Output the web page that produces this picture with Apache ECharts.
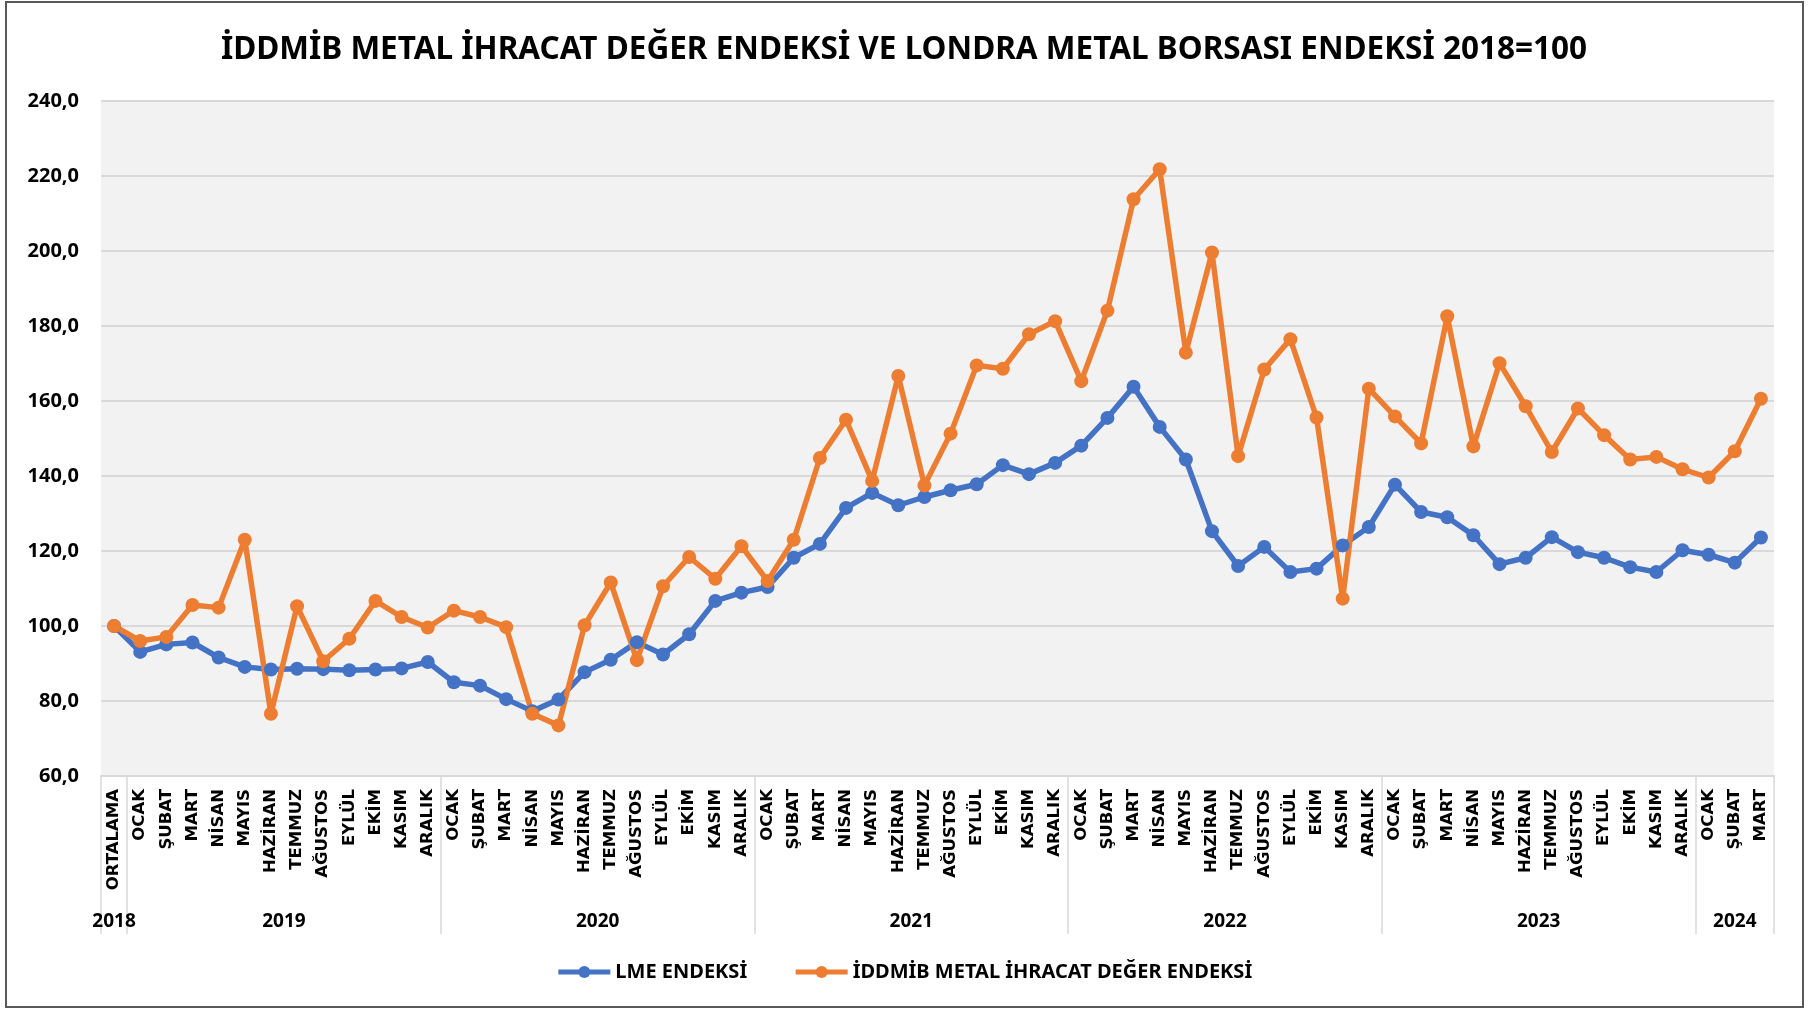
<!DOCTYPE html>
<html>
<head>
<meta charset="utf-8">
<title>İDDMİB Metal İhracat Değer Endeksi</title>
<script src="https://cdn.jsdelivr.net/npm/echarts@6.0.0/dist/echarts.min.js"></script>
<style>
    html, body { margin: 0; padding: 0; background: #fff; }
    #main { width: 1808px; height: 1010px; }
</style>
</head>
<body>
<div id="main"></div>
<script>
// veriler
var aylar = ['OCAK', 'ŞUBAT', 'MART', 'NİSAN', 'MAYIS', 'HAZİRAN', 'TEMMUZ', 'AĞUSTOS', 'EYLÜL', 'EKİM', 'KASIM', 'ARALIK'];
var yillar = ['2018', '2019', '2020', '2021', '2022', '2023', '2024'];
var yilAyLabels = [
    ['ORTALAMA'],
    aylar, aylar, aylar, aylar, aylar,
    ['OCAK', 'ŞUBAT', 'MART']
];
var lme = [100,
    93.1, 95.1, 95.6, 91.6, 89.1, 88.4, 88.6, 88.5, 88.2, 88.4, 88.7, 90.4,
    85.0, 84.1, 80.5, 77.3, 80.4, 87.7, 91.0, 95.7, 92.4, 97.8, 106.7, 108.9,
    110.4, 118.2, 121.9, 131.5, 135.5, 132.2, 134.4, 136.2, 137.8, 142.9, 140.5, 143.5,
    148.1, 155.5, 163.8, 153.1, 144.4, 125.3, 116.0, 121.1, 114.4, 115.3, 121.5, 126.4,
    137.7, 130.4, 129.0, 124.2, 116.5, 118.2, 123.7, 119.7, 118.2, 115.7, 114.4, 120.2,
    119.0, 116.9, 123.6];
var iddmib = [100,
    96.0, 97.1, 105.6, 104.9, 123.0, 76.6, 105.3, 90.6, 96.6, 106.7, 102.4, 99.6,
    104.1, 102.4, 99.7, 76.6, 73.5, 100.2, 111.6, 90.9, 110.6, 118.4, 112.6, 121.3,
    112.0, 123.0, 144.8, 155.0, 138.7, 166.7, 137.5, 151.3, 169.5, 168.6, 177.8, 181.3,
    165.3, 184.1, 213.8, 221.8, 172.9, 199.6, 145.3, 168.4, 176.5, 155.6, 107.3, 163.3,
    155.9, 148.7, 182.6, 147.9, 170.1, 158.6, 146.4, 158.0, 150.9, 144.4, 145.1, 141.8,
    139.6, 146.6, 160.6];

// kategoriler ve yil gruplarinin sinirlari
var kategoriler = [];
var sinirlar = [-0.5];
var merkezler = [];
yilAyLabels.forEach(function (list) {
    var bas = kategoriler.length;
    kategoriler = kategoriler.concat(list);
    merkezler.push(bas + (list.length - 1) / 2);
    sinirlar.push(kategoriler.length - 0.5);
});

var myChart = echarts.init(document.getElementById('main'));

var option = {
    backgroundColor: '#fff',
    animation: false,
    title: {
        text: 'İDDMİB METAL İHRACAT DEĞER ENDEKSİ VE LONDRA METAL BORSASI ENDEKSİ 2018=100',
        left: 'center',
        top: 29,
        textStyle: {
            fontFamily: 'Noto Sans',
            fontWeight: 'bold',
            fontSize: 31.5,
            color: '#000'
        }
    },
    legend: {
        top: 957,
        left: 'center',
        itemWidth: 52,
        itemHeight: 15,
        itemGap: 46,
        lineStyle: { width: 5 },
        textStyle: {
            fontFamily: 'Noto Sans',
            fontWeight: 'bold',
            fontSize: 20,
            color: '#000'
        }
    },
    grid: {
        left: 101,
        right: 34,
        top: 101,
        bottom: 234,
        show: true,
        backgroundColor: '#f2f2f2',
        borderWidth: 0
    },
    xAxis: [
        {
            type: 'category',
            data: kategoriler,
            boundaryGap: true,
            axisLine: { lineStyle: { color: '#d9d9d9', width: 2 } },
            axisTick: { show: false },
            axisLabel: {
                interval: 0,
                rotate: 90,
                margin: 13,
                fontFamily: 'DejaVu Sans',
                fontWeight: 'bold',
                fontSize: 16.5,
                color: '#000'
            }
        },
        {
            type: 'value',
            position: 'bottom',
            min: -0.5,
            max: kategoriler.length - 0.5,
            axisLine: { show: false },
            splitLine: { show: false },
            axisTick: {
                show: true,
                customValues: sinirlar,
                length: 158,
                lineStyle: { color: '#d9d9d9', width: 1.5 }
            },
            axisLabel: {
                customValues: merkezler,
                margin: 136,
                fontFamily: 'Noto Sans',
                fontWeight: 'bold',
                fontSize: 19,
                color: '#000',
                formatter: function (v) {
                    var i = merkezler.indexOf(v);
                    return i >= 0 ? yillar[i] : '';
                }
            }
        }
    ],
    yAxis: {
        type: 'value',
        min: 60,
        max: 240,
        interval: 20,
        axisLine: { show: false },
        axisTick: { show: false },
        splitLine: { lineStyle: { color: '#d9d9d9', width: 2 } },
        axisLabel: {
            margin: 22,
            fontFamily: 'Noto Sans',
            fontWeight: 'bold',
            fontSize: 20,
            color: '#000',
            formatter: function (v) {
                return v.toFixed(1).replace('.', ',');
            }
        }
    },
    series: [
        {
            name: 'LME ENDEKSİ',
            type: 'line',
            data: lme,
            symbol: 'circle',
            symbolSize: 14,
            lineStyle: { width: 5.5, color: '#4472c4' },
            itemStyle: { color: '#4472c4' }
        },
        {
            name: 'İDDMİB METAL İHRACAT DEĞER ENDEKSİ',
            type: 'line',
            data: iddmib,
            symbol: 'circle',
            symbolSize: 14,
            lineStyle: { width: 5.5, color: '#ed7d31' },
            itemStyle: { color: '#ed7d31' }
        }
    ],
    graphic: [
        {
            type: 'rect',
            shape: { x: 6, y: 2, width: 1797, height: 1005 },
            style: { fill: 'none', stroke: '#595959', lineWidth: 2 },
            silent: true
        }
    ]
};

myChart.setOption(option);
</script>
</body>
</html>
